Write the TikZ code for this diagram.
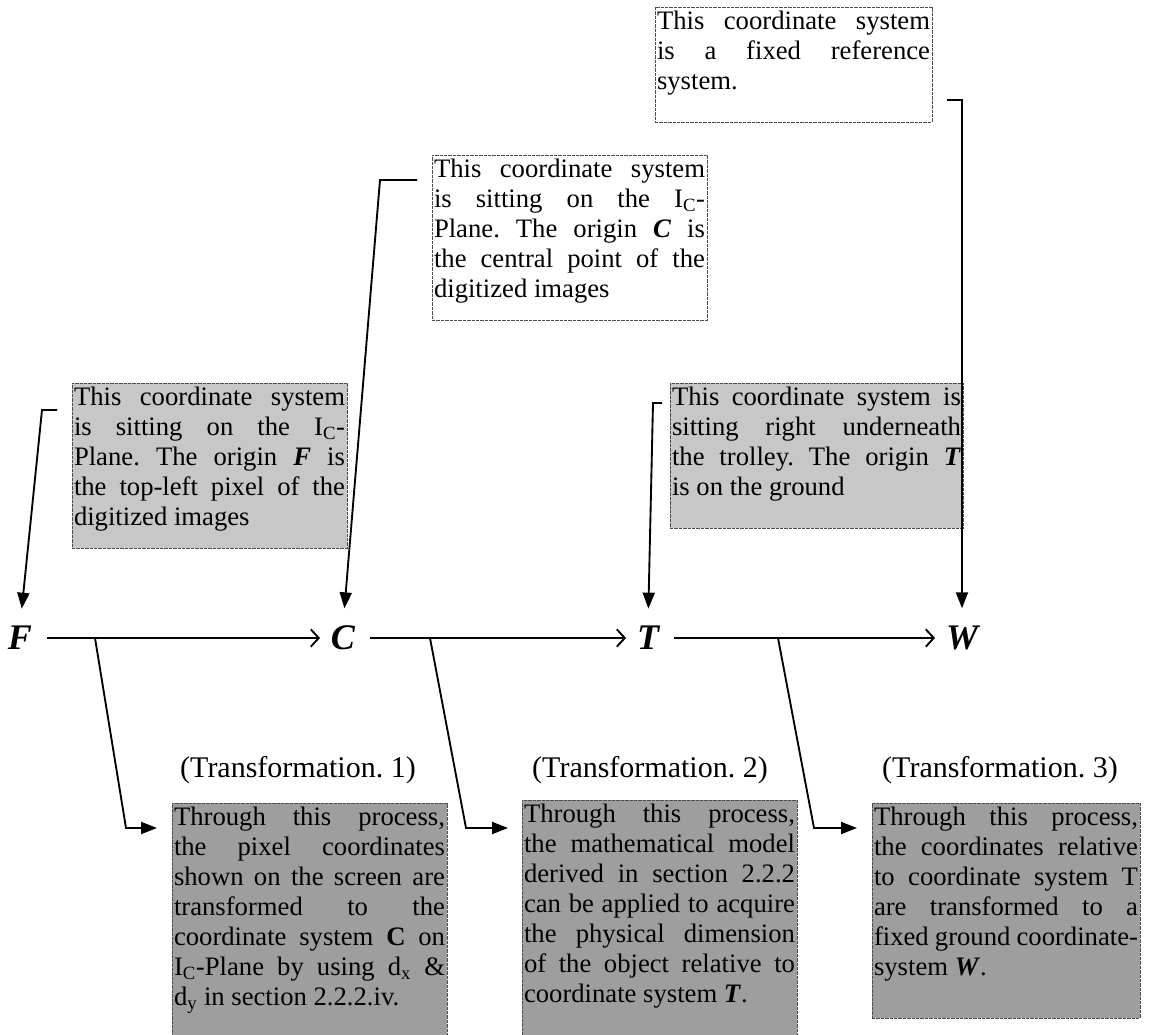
\documentclass[tikz,border=0pt]{standalone}
\usepackage{fontspec}
\setmainfont{Liberation Serif}
\usetikzlibrary{arrows.meta,calc}
\frenchspacing
\newcommand\bi[1]{\textbf{\textit{#1}}}
\newcommand\nb[3]{\parbox[c][\dimexpr #2pt*3/4-6pt\relax][t]{\dimexpr #1pt*3/4-3pt\relax}{\fontsize{20}{22.5}\selectfont\frenchspacing\tolerance=10000\hyphenpenalty=10000\hbadness=10000 #3}}
\begin{document}
\begin{tikzpicture}[x=0.75pt,y=-0.75pt,
  note/.style={draw=black!70, line width=0.6pt, dash pattern=on 2.5pt off 0.8pt,
    inner xsep=1.5pt, inner ysep=3pt, outer sep=0pt, anchor=north west, fill=#1},
  note/.default=white,
  letter/.style={font=\fontsize{27}{27}\selectfont\bfseries\itshape, inner sep=0pt},
  title/.style={font=\fontsize{22.5}{24}\selectfont, inner sep=0pt},
  harrow/.style={line width=1.4pt, -{Straight Barb[length=6pt,width=13pt]},
    shorten <=11pt, shorten >=8pt},
  conn/.style={line width=1.4pt, -{Triangle[length=12pt,width=9pt]}, line join=miter},
  vconn/.style={conn, shorten >=13pt}]
\useasboundingbox (0,0) rectangle (1160,1035);
\fill[white] (0,0) rectangle (1160,1035);

% upper notes
\node[note] (wbox) at (655,7) {\nb{277}{115}{This coordinate system\linebreak is a fixed reference\linebreak system.}};
\node[note] (cbox) at (432,155) {\nb{275}{165}{This coordinate system\linebreak is sitting on the I\textsubscript{C}-\linebreak Plane. The origin \bi{C} is\linebreak the central point of the\linebreak digitized images}};
\node[note=black!22] (fbox) at (72,383) {\nb{275}{165}{This coordinate system\linebreak is sitting on the I\textsubscript{C}-\linebreak Plane. The origin \bi{F} is\linebreak the top-left pixel of the\linebreak digitized images}};
\node[note=black!22] (tbox) at (670,383) {\nb{293}{145}{This coordinate system is\linebreak sitting right underneath\linebreak the trolley. The origin \bi{T}\linebreak is on the ground}};

% main chain
\node[letter] (F) at (20,638) {F};
\node[letter] (C) at (343,638) {C};
\node[letter] (T) at (648,638) {T};
\node[letter] (W) at (962,638) {W};
\draw[harrow] (F) -- (C);
\draw[harrow] (C) -- (T);
\draw[harrow] (T) -- (W);

% notes to letters
\draw[vconn] ($(fbox.north west)+(-15,27)$) -- ++(-15,0) -- (F.north);
\draw[vconn] ($(cbox.north west)+(-15,25)$) -- ++(-37,0) -- (C.north);
\draw[vconn] ($(tbox.north west)+(-8,20)$) -- ++(-9,0) -- (T.north);
\draw[vconn] ($(wbox.north east)+(15,93)$) -- ++(15,0) -- (W.north);

% titles
\node[title] (t1) at (298,770) {(Transformation. 1)};
\node[title] (t2) at (650,770) {(Transformation. 2)};
\node[title] (t3) at (1000,770) {(Transformation. 3)};

% lower notes
\node[note=black!38] (b1) at (172,803) {\nb{275}{240}{Through this process,\linebreak the pixel coordinates\linebreak shown on the screen are\linebreak transformed to the\linebreak coordinate system \textbf{C} on\linebreak I\textsubscript{C}-Plane by using d\textsubscript{x} \&\linebreak d\textsubscript{y} in section 2.2.2.iv.}};
\node[note=black!38] (b2) at (522,800) {\nb{275}{243}{Through this process,\linebreak the mathematical model\linebreak derived in section 2.2.2\linebreak can be applied to acquire\linebreak the physical dimension\linebreak of the object relative to\linebreak coordinate system \bi{T}.}};
\node[note=black!38] (b3) at (872,803) {\nb{268}{215}{Through this process,\linebreak the coordinates relative\linebreak to coordinate system T\linebreak are transformed to a\linebreak fixed ground coordinate-\linebreak system \bi{W}.}};

% branches
\coordinate (j1) at (95,638);
\coordinate (j2) at (430,638);
\coordinate (j3) at (778,638);
\draw[conn] (j1) -- ($(b1.north west)+(-46,25)$) -- ($(b1.north west)+(-15,25)$);
\draw[conn] (j2) -- ($(b2.north west)+(-56,28)$) -- ($(b2.north west)+(-14,28)$);
\draw[conn] (j3) -- ($(b3.north west)+(-58,25)$) -- ($(b3.north west)+(-15,25)$);
\end{tikzpicture}
\end{document}
